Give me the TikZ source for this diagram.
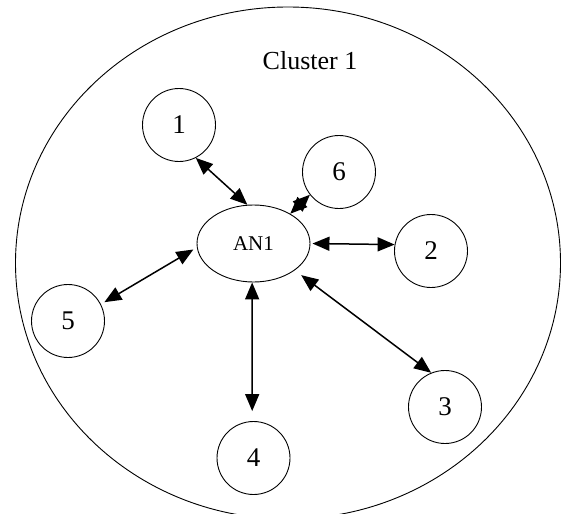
\documentclass[tikz,border=0pt]{standalone}
\usepackage{fontspec}
\setmainfont{Liberation Serif}
\usetikzlibrary{arrows.meta,shapes.geometric}
\begin{document}
\begin{tikzpicture}[x=1pt,y=-1pt,
  member/.style={circle,draw,line width=0.9pt,minimum size=73pt,inner sep=0pt,font=\fontsize{27}{30}\selectfont},
  head/.style={ellipse,draw,line width=0.9pt,minimum width=113pt,minimum height=77pt,inner sep=0pt,font=\fontsize{21}{24}\selectfont},
  link/.style={line width=1.5pt,{Triangle[length=17pt,width=14pt]}-{Triangle[length=17pt,width=14pt]}}]
\useasboundingbox (0,0) rectangle (563,514);
\clip (0,0) rectangle (563,514);
\node[ellipse,draw,line width=0.9pt,minimum width=545pt,minimum height=512pt,inner sep=0pt] (cluster) at (288,263) {};
\node[font=\fontsize{26}{30}\selectfont] (title) at (310,61) {Cluster 1};
\node[head] (AN1) at (253.5,243.5) {AN1};
\node[member] (n1) at (179,125) {1};
\node[member] (n2) at (431,251) {2};
\node[member] (n3) at (445,407) {3};
\node[member] (n4) at (253.5,458) {4};
\node[member] (n5) at (68,321) {5};
\node[member] (n6) at (339,172) {6};
\draw[link] (n1.-63) -- (AN1.99);
\draw[link] (AN1.39) -- (n6.218);
\draw[link, shorten <=2pt] (AN1.0) -- (n2.170);
\draw[link, shorten <=8pt] (AN1.-33) -- (n3.112);
\draw[link, shorten >=10pt] (AN1.-92) -- (n4.92);
\draw[link, shorten <=4pt, shorten >=4pt] (AN1.184) -- (n5.27);
\end{tikzpicture}
\end{document}
